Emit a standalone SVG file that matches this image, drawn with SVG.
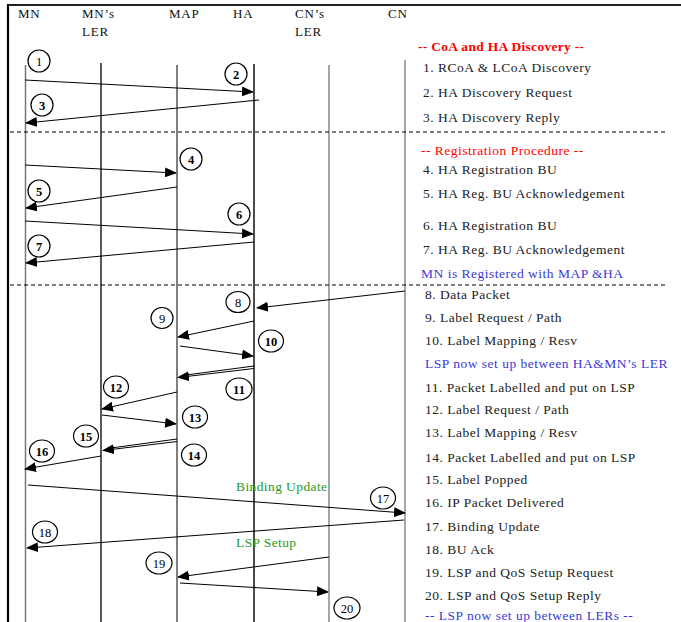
<svg xmlns="http://www.w3.org/2000/svg" width="681" height="622" viewBox="0 0 681 622">
<style>
text{font-family:"Liberation Serif","Times New Roman",serif;font-size:13.5px;fill:#222;letter-spacing:0.5px}
.hd{font-size:13px;fill:#111;letter-spacing:0.8px}
.red{fill:#f00}
.blue{fill:#3a3ad6}
.green{fill:#1f9a1f;letter-spacing:0.4px}
.msg{stroke:#000;stroke-width:1;fill:none;marker-end:url(#ah)}
.ll{fill:none;stroke-width:1.5}
.dash{stroke:#000;stroke-width:1;stroke-dasharray:4 3}
.num ellipse,.num circle{fill:#fff;stroke:#000;stroke-width:1.2}
.num text{font-size:12.5px;text-anchor:middle;fill:#000;letter-spacing:0}
.b text{font-weight:bold}
</style>
<defs>
<marker id="ah" markerWidth="12" markerHeight="10" refX="11" refY="5" orient="auto" markerUnits="userSpaceOnUse">
<path d="M0,0 L12,5 L0,10 Z" fill="#000"/>
</marker>
</defs>
<rect width="681" height="622" fill="#fff"/>
<!-- frame -->
<line x1="8" y1="5" x2="681" y2="5" stroke="#222" stroke-width="2"/>
<line x1="8" y1="4" x2="8" y2="622" stroke="#000" stroke-width="2.2"/>
<!-- headers -->
<g id="hdr-MN"><text class="hd" x="18" y="18">MN</text></g>
<g id="hdr-MNLER"><text class="hd" x="82" y="18">MN’s</text><text class="hd" x="82" y="36">LER</text></g>
<g id="hdr-MAP"><text class="hd" x="169" y="18">MAP</text></g>
<g id="hdr-HA"><text class="hd" x="233" y="18">HA</text></g>
<g id="hdr-CNLER"><text class="hd" x="295" y="18">CN’s</text><text class="hd" x="295" y="36">LER</text></g>
<g id="hdr-CN"><text class="hd" x="388" y="18">CN</text></g>
<!-- lifelines -->
<g id="lifelines">
<line id="ll-MN" class="ll" x1="25.5" y1="65" x2="25.5" y2="622" stroke="#777"/>
<line id="ll-MNLER" class="ll" x1="101" y1="63" x2="101" y2="622" stroke="#222"/>
<line id="ll-MAP" class="ll" x1="177" y1="65" x2="177" y2="622" stroke="#555"/>
<line id="ll-HA" class="ll" x1="254" y1="64" x2="254" y2="622" stroke="#111"/>
<line id="ll-CNLER" class="ll" x1="329" y1="65" x2="329" y2="622" stroke="#888"/>
<line id="ll-CN" class="ll" x1="405" y1="60" x2="405" y2="622" stroke="#888"/>
</g>
<!-- separators -->
<line class="dash" x1="10" y1="132" x2="668" y2="132"/>
<line class="dash" x1="10" y1="285" x2="668" y2="285"/>
<!-- connectors -->
<g id="connectors">
<line class="msg" x1="25" y1="80" x2="253" y2="92"/>
<line class="msg" x1="259" y1="100" x2="26" y2="123"/>
<line class="msg" x1="25" y1="165" x2="176" y2="173"/>
<line class="msg" x1="177" y1="187" x2="26" y2="208"/>
<line class="msg" x1="25" y1="221" x2="253" y2="234"/>
<line class="msg" x1="254" y1="242" x2="26" y2="263"/>
<line class="msg" x1="405" y1="291" x2="257" y2="308"/>
<line class="msg" x1="254" y1="321" x2="178" y2="337"/>
<line class="msg" x1="180" y1="346" x2="253" y2="356"/>
<line x1="254" y1="366" x2="186" y2="375" stroke="#000" stroke-width="1"/>
<line class="msg" x1="254" y1="368.5" x2="178" y2="377.5"/>
<line class="msg" x1="177" y1="392" x2="102" y2="409"/>
<line class="msg" x1="102" y1="415" x2="176" y2="424"/>
<line x1="177" y1="439" x2="111" y2="448" stroke="#000" stroke-width="1"/>
<line class="msg" x1="177" y1="441.5" x2="103" y2="450.5"/>
<line class="msg" x1="101" y1="456" x2="25" y2="469"/>
<line class="msg" x1="28" y1="485" x2="405" y2="513"/>
<line class="msg" x1="404" y1="520" x2="27" y2="548"/>
<line class="msg" x1="329" y1="557" x2="178" y2="577"/>
<line class="msg" x1="180" y1="583" x2="328" y2="592"/>
</g>
<!-- numbered circles -->
<g id="n1" class="num"><circle cx="39" cy="61" r="11"/><text x="39" y="65.5">1</text></g>
<g id="n2" class="num b"><circle cx="236" cy="74" r="11"/><text x="236" y="78.5">2</text></g>
<g id="n3" class="num b"><circle cx="42" cy="105" r="11"/><text x="42" y="109.5">3</text></g>
<g id="n4" class="num b"><circle cx="191" cy="159" r="11"/><text x="191" y="163.5">4</text></g>
<g id="n5" class="num b"><circle cx="39" cy="191" r="11"/><text x="39" y="195.5">5</text></g>
<g id="n6" class="num b"><circle cx="239" cy="214" r="11"/><text x="239" y="218.5">6</text></g>
<g id="n7" class="num b"><circle cx="39" cy="246" r="11"/><text x="39" y="250.5">7</text></g>
<g id="n8" class="num"><ellipse cx="238" cy="302" rx="12" ry="10.5"/><text x="238" y="306.5">8</text></g>
<g id="n9" class="num"><ellipse cx="162" cy="318" rx="11" ry="10.5"/><text x="162" y="322.5">9</text></g>
<g id="n10" class="num b"><ellipse cx="271" cy="341" rx="12.5" ry="11"/><text x="271" y="345.5">10</text></g>
<g id="n11" class="num b"><ellipse cx="239" cy="389" rx="13" ry="11"/><text x="239" y="393.5">11</text></g>
<g id="n12" class="num b"><ellipse cx="116" cy="387" rx="12.5" ry="11"/><text x="116" y="391.5">12</text></g>
<g id="n13" class="num b"><ellipse cx="195" cy="417" rx="12.5" ry="11"/><text x="195" y="421.5">13</text></g>
<g id="n14" class="num b"><ellipse cx="194" cy="455" rx="12.5" ry="11"/><text x="194" y="459.5">14</text></g>
<g id="n15" class="num b"><ellipse cx="86" cy="436" rx="12.5" ry="11"/><text x="86" y="440.5">15</text></g>
<g id="n16" class="num b"><ellipse cx="42" cy="451" rx="12.5" ry="11"/><text x="42" y="455.5">16</text></g>
<g id="n17" class="num"><ellipse cx="383" cy="498" rx="12.5" ry="11"/><text x="383" y="502.5">17</text></g>
<g id="n18" class="num"><ellipse cx="45" cy="532" rx="12.5" ry="11"/><text x="45" y="536.5">18</text></g>
<g id="n19" class="num"><ellipse cx="159" cy="563" rx="13" ry="11"/><text x="159" y="567.5">19</text></g>
<g id="n20" class="num"><ellipse cx="347" cy="608" rx="13" ry="11"/><text x="347" y="612.5">20</text></g>
<!-- inline labels -->
<text class="green" x="236" y="491">Binding Update</text>
<text class="green" x="236" y="547">LSP Setup</text>
<!-- legend -->
<g id="legend">
<text class="red" x="418" y="51" font-weight="bold" font-size="14" style="letter-spacing:0.3px">-- CoA and HA Discovery --</text>
<text x="423" y="72">1. RCoA &amp; LCoA Discovery</text>
<text x="423" y="97">2. HA Discovery Request</text>
<text x="423" y="122">3. HA Discovery Reply</text>
<text class="red" x="421" y="155">-- Registration Procedure --</text>
<text x="423" y="174">4. HA Registration BU</text>
<text x="423" y="198">5. HA Reg. BU Acknowledgement</text>
<text x="423" y="230">6. HA Registration BU</text>
<text x="423" y="254">7. HA Reg. BU Acknowledgement</text>
<text class="blue" x="421" y="278">MN is Registered with MAP &amp;HA</text>
<text x="425" y="299">8. Data Packet</text>
<text x="425" y="322">9. Label Request / Path</text>
<text x="425" y="345">10. Label Mapping / Resv</text>
<text class="blue" x="425" y="368">LSP now set up between HA&amp;MN’s LER</text>
<text x="425" y="392">11. Packet Labelled and put on LSP</text>
<text x="425" y="414">12. Label Request / Path</text>
<text x="425" y="437">13. Label Mapping / Resv</text>
<text x="425" y="462">14. Packet Labelled and put on LSP</text>
<text x="425" y="484">15. Label Popped</text>
<text x="425" y="507">16. IP Packet Delivered</text>
<text x="425" y="531">17. Binding Update</text>
<text x="425" y="554">18. BU Ack</text>
<text x="425" y="577">19. LSP and QoS Setup Request</text>
<text x="425" y="600">20. LSP and QoS Setup Reply</text>
<text class="blue" x="425" y="620">-- LSP now set up between LERs --</text>
</g>
</svg>
